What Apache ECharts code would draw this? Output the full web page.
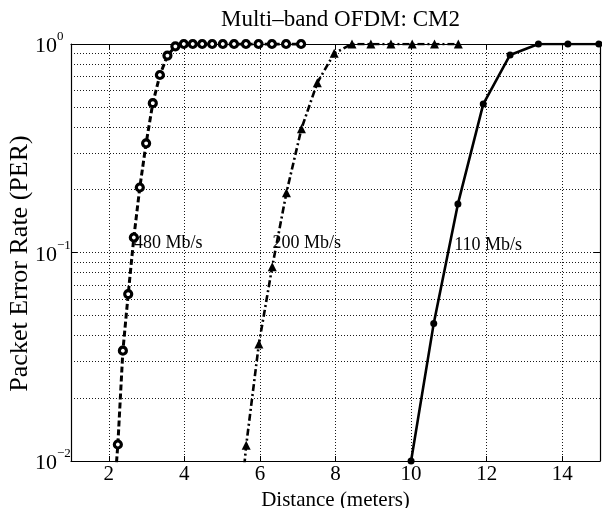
<!DOCTYPE html>
<html>
<head>
<meta charset="utf-8">
<script src="https://cdn.jsdelivr.net/npm/echarts@6/dist/echarts.min.js"></script>
<style>html,body{margin:0;padding:0;background:#fff}#c{width:602px;height:508px}</style>
</head>
<body>
<div id="c"></div>
<script>
// Distances (meters) and packet error rates
const x480 = [2.115, 2.24, 2.373, 2.514, 2.663, 2.821, 2.988, 3.165, 3.353, 3.552, 3.762, 3.985, 4.222, 4.472, 4.737, 5.018, 5.315, 5.63, 5.964, 6.318, 6.692, 7.089];
const per480 = [0.006, 0.012, 0.0338, 0.0632, 0.118, 0.205, 0.334, 0.52, 0.71, 0.88, 0.975, 1, 1, 1, 1, 1, 1, 1, 1, 1, 1, 1];
const x200 = [5.322, 5.637, 5.972, 6.326, 6.701, 7.098, 7.519, 7.965, 8.437, 8.937, 9.467, 10.03, 10.62, 11.25];
const per200 = [0.003, 0.0119, 0.0364, 0.0855, 0.1935, 0.392, 0.652, 0.902, 1, 1, 1, 1, 1, 1];
const x110 = [10, 10.6, 11.24, 11.91, 12.62, 13.37, 14.15, 14.97];
const per110 = [0.01, 0.0457, 0.171, 0.515, 0.886, 1, 1, 1];
const xTicks = [2, 4, 6, 8, 10, 12, 14];
const yGrid = [0.02, 0.03, 0.04, 0.05, 0.06, 0.07, 0.08, 0.09, 0.1, 0.2, 0.3, 0.4, 0.5, 0.6, 0.7, 0.8, 0.9];
const seriesNames = ['480 Mb/s', '200 Mb/s', '110 Mb/s'];
const labelAt = [[2.654, 0.111], [6.32, 0.111], [11.13, 0.108]];

const FONT = 'Liberation Serif';
const zip = (a, b) => a.map((v, i) => [v, b[i]]);
const txt = {fontFamily: FONT, color: '#000'};

function lbl(i) {
  return {
    symbol: 'circle', symbolSize: 1, silent: true, animation: false,
    itemStyle: {color: 'rgba(0,0,0,0)'},
    data: [{coord: labelAt[i], value: seriesNames[i]}],
    label: {show: true, position: 'right', distance: 0, formatter: seriesNames[i], fontSize: 18, fontFamily: FONT, color: '#000'}
  };
}

const chart = echarts.init(document.getElementById('c'), null, {renderer: 'canvas'});
chart.setOption({
  animation: false,
  backgroundColor: '#fff',
  title: {
    text: 'Multi–band OFDM: CM2', left: 335.5, textAlign: 'center', top: 3,
    textStyle: {fontFamily: FONT, fontSize: 23, fontWeight: 'normal', color: '#000'}
  },
  grid: {left: 71, right: 2, top: 44, bottom: 47, containLabel: false, outerBoundsMode: 'none'},
  xAxis: [{
    type: 'value', min: 1, max: 15, position: 'bottom',
    name: 'Distance (meters)', nameLocation: 'middle', nameGap: 20,
    nameTextStyle: Object.assign({fontSize: 21}, txt),
    axisLine: {show: true, onZero: false, lineStyle: {color: '#000', width: 1.2}},
    axisTick: {show: true, inside: true, length: 5, customValues: xTicks, lineStyle: {color: '#000'}},
    axisLabel: Object.assign({fontSize: 21, margin: 3, customValues: xTicks}, txt),
    splitLine: {show: false}
  }, {
    type: 'value', min: 1, max: 15, position: 'top',
    axisLine: {show: true, onZero: false, lineStyle: {color: '#000', width: 1.2}},
    axisTick: {show: true, inside: true, length: 5, customValues: xTicks, lineStyle: {color: '#000'}},
    axisLabel: {show: false}, splitLine: {show: false}
  }],
  yAxis: [{
    type: 'log', min: 0.01, max: 1, logBase: 10, position: 'left',
    name: 'Packet Error Rate (PER)', nameLocation: 'middle', nameGap: 38, nameRotate: 90,
    nameMoveOverlap: false,
    nameTextStyle: Object.assign({fontSize: 26, padding: [0, 22, 0, 0]}, txt),
    axisLine: {show: true, onZero: false, lineStyle: {color: '#000', width: 1.2}},
    axisTick: {show: true, inside: true, length: 6, lineStyle: {color: '#000'}},
    axisLabel: {
      margin: 36, align: 'left',
      formatter: v => { const e = Math.round(Math.log10(v)); return '{b|10}{s|' + (e < 0 ? '−' + (-e) : e) + '}'; },
      rich: {
        b: {fontSize: 22, fontFamily: FONT, color: '#000', padding: [5, 0, 0, 0]},
        s: {fontSize: 13, fontFamily: FONT, color: '#000', verticalAlign: 'top'}
      }
    },
    splitLine: {show: false}
  }, {
    type: 'log', min: 0.01, max: 1, logBase: 10, position: 'right',
    axisLine: {show: true, onZero: false, lineStyle: {color: '#000', width: 1.2}},
    axisTick: {show: true, inside: true, length: 6, lineStyle: {color: '#000'}},
    axisLabel: {show: false}, splitLine: {show: false}
  }],
  series: [{
    name: seriesNames[2], type: 'line', z: 3, clip: true,
    data: zip(x110, per110),
    symbol: 'circle', symbolSize: 7,
    itemStyle: {color: '#000'},
    lineStyle: {color: '#000', width: 2.6, type: 'solid'},
    markPoint: lbl(2),
    markLine: {
      silent: true, symbol: ['none', 'none'], animation: false, z: 1,
      label: {show: false},
      lineStyle: {color: '#000', width: 1, type: [1, 2], opacity: 0.9},
      emphasis: {disabled: true},
      data: yGrid.map(v => ({yAxis: v})).concat(xTicks.map(v => ({xAxis: v})))
    }
  }, {
    name: seriesNames[1], type: 'line', z: 3, clip: true,
    data: zip(x200, per200),
    symbol: 'triangle', symbolSize: 9,
    itemStyle: {color: '#000'},
    lineStyle: {color: '#000', width: 2.6, type: [7, 3, 2, 3]},
    markPoint: lbl(1)
  }, {
    name: seriesNames[0], type: 'line', z: 3, clip: true,
    data: zip(x480, per480),
    symbol: 'circle', symbolSize: 7,
    itemStyle: {color: '#fff', borderColor: '#000', borderWidth: 3.2},
    lineStyle: {color: '#000', width: 3, type: [6, 3]},
    markPoint: lbl(0)
  }]
});
</script>
</body>
</html>
